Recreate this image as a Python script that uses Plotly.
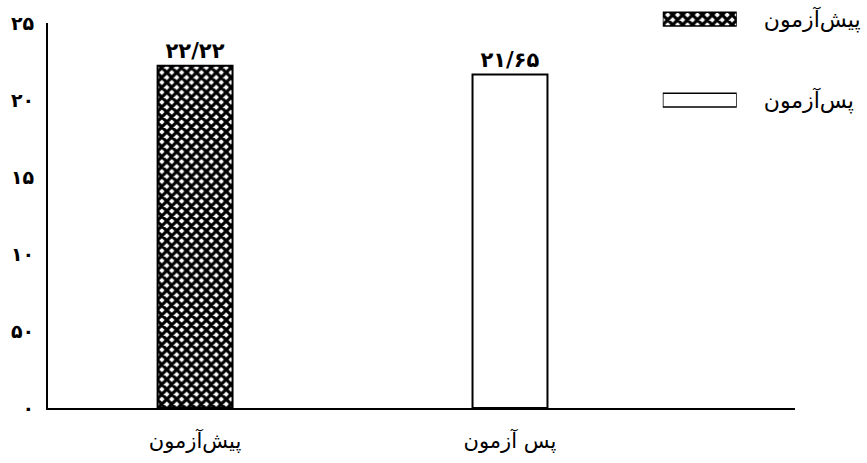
import plotly.graph_objects as go

categories = ["پیش‌آزمون", "پس آزمون"]
series_names = ["پیش‌آزمون", "پس‌آزمون"]
values = [22.22, 21.65]
value_labels = ["۲۲/۲۲", "۲۱/۶۵"]
y_tick_vals = [0, 5, 10, 15, 20, 25]
y_tick_text = ["۰", "۵۰", "۱۰", "۱۵", "۲۰", "۲۵"]

FONT = "DejaVu Sans"

hatch = dict(color="white", pattern=dict(shape="x", fgcolor="black", bgcolor="white",
                                          size=7, solidity=0.7, fillmode="replace"))
plain = dict(color="white")
styles = [hatch, plain]

fig = go.Figure()
for i in range(len(values)):
    fig.add_trace(go.Bar(
        x=[categories[i]], y=[values[i]], name=series_names[i],
        width=0.238, showlegend=False,
        marker=dict(**styles[i], line=dict(color="black", width=2)),
        text=[value_labels[i]], textposition="outside",
        textfont=dict(family=FONT, size=21, color="black", weight="bold"),
        cliponaxis=False, xaxis="x", yaxis="y",
    ))

# custom legend: wide swatches drawn on a small helper axis at the top right
legend_pos = list(range(len(series_names)))[::-1]
for i in range(len(series_names)):
    fig.add_trace(go.Bar(
        x=[1], y=[legend_pos[i]], orientation="h", width=0.17, showlegend=False,
        marker=dict(**styles[i], line=dict(color="black", width=1.5)),
        xaxis="x2", yaxis="y2", hoverinfo="skip",
    ))

fig.update_layout(
    width=867, height=463,
    margin=dict(l=48, r=72, t=5, b=55, autoexpand=False),
    paper_bgcolor="white", plot_bgcolor="white",
    barmode="overlay",
    font=dict(family=FONT, color="black"),
    xaxis=dict(domain=[0, 1], range=[-0.467, 1.905], showline=True, linecolor="black",
               linewidth=2, showgrid=False, ticks="", zeroline=False, automargin=False,
               ticklabelstandoff=13,
               tickfont=dict(family=FONT, size=21, color="black")),
    yaxis=dict(domain=[0, 0.9553], range=[0, 25], tickvals=y_tick_vals, ticktext=y_tick_text,
               showline=True, linecolor="black", linewidth=2, showgrid=False,
               zeroline=False, ticks="", ticklabelstandoff=8, automargin=False,
               tickfont=dict(family=FONT, size=19, color="black", weight="bold")),
    xaxis2=dict(domain=[0.823, 0.922], range=[0, 1], anchor="y2", visible=False),
    yaxis2=dict(domain=[0.727, 1.0], range=[-0.185, 1.173], anchor="x2", side="right",
                tickvals=legend_pos, ticktext=series_names, showline=False, showgrid=False,
                zeroline=False, ticks="", ticklabelstandoff=26, automargin=False,
                tickfont=dict(family=FONT, size=22, color="black")),
)

fig.write_html("out.html", config={"displayModeBar": False},
               post_script="document.body.style.margin='0';document.body.style.padding='0';")
